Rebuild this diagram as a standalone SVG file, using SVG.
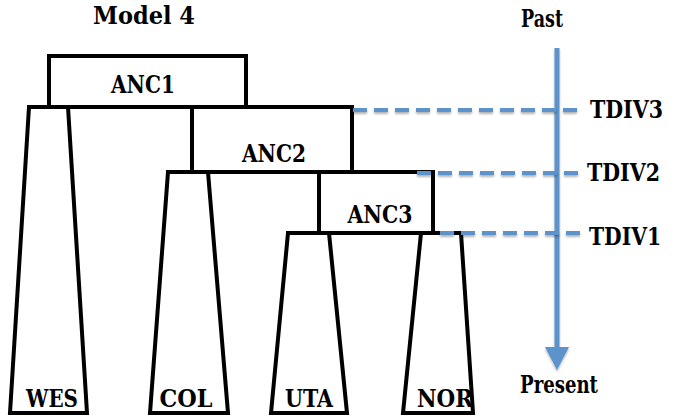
<svg xmlns="http://www.w3.org/2000/svg" width="675" height="417" viewBox="0 0 675 417">
  <style>
    text { font-family: 'DejaVu Serif', 'Liberation Serif', serif; font-weight: bold; fill: #000; font-size: 23.5px; }
    .shape { fill: #fff; stroke: #000; stroke-width: 4; stroke-linejoin: miter; }
    .split { stroke: #000; stroke-width: 4; fill: none; }
    .tdiv { stroke: #5b93cb; stroke-width: 4; stroke-dasharray: 14 7; fill: none; }
    .axis { stroke: #5b93cb; stroke-width: 5; fill: none; }
  </style>
  <defs>
    <filter id="soft" x="-10%" y="-50%" width="120%" height="200%">
      <feDropShadow dx="0" dy="2" stdDeviation="1.2" flood-color="#000" flood-opacity="0.3"/>
    </filter>
  </defs>
  <rect width="675" height="417" fill="#fff"/>

  <text x="93" y="23.5" style="font-size:25px" textLength="102" lengthAdjust="spacingAndGlyphs">Model 4</text>

  <!-- time axis -->
  <g id="time-axis" filter="url(#soft)">
    <line class="axis" x1="557" y1="48" x2="557" y2="350"/>
    <polygon points="545,347 569,347 557,370" fill="#5b93cb"/>
  </g>
  <text x="542" y="27" text-anchor="middle" textLength="42" lengthAdjust="spacingAndGlyphs">Past</text>
  <text x="559" y="393" text-anchor="middle" textLength="78" lengthAdjust="spacingAndGlyphs">Present</text>
  <text x="590" y="118" textLength="73" lengthAdjust="spacingAndGlyphs">TDIV3</text>
  <text x="587" y="181" textLength="73" lengthAdjust="spacingAndGlyphs">TDIV2</text>
  <text x="589" y="245" textLength="72" lengthAdjust="spacingAndGlyphs">TDIV1</text>

  <!-- populations -->
  <g id="WES">
    <polygon class="shape" points="29,107 68,107 87,413 10,413"/>
    <text x="52" y="407" text-anchor="middle" textLength="52" lengthAdjust="spacingAndGlyphs">WES</text>
  </g>
  <g id="COL">
    <polygon class="shape" points="168,172 208,172 228,413 150,413"/>
    <text x="186" y="407" text-anchor="middle" textLength="53" lengthAdjust="spacingAndGlyphs">COL</text>
  </g>
  <g id="UTA">
    <polygon class="shape" points="288,233 329,233 347,413 271,413"/>
    <text x="309" y="407" text-anchor="middle" textLength="48" lengthAdjust="spacingAndGlyphs">UTA</text>
  </g>
  <g id="NOR">
    <polygon class="shape" points="421,233 461,233 473,413 403,413"/>
    <text x="445" y="407" text-anchor="middle" textLength="56" lengthAdjust="spacingAndGlyphs">NOR</text>
  </g>

  <!-- ancestral populations -->
  <g id="ANC1">
    <rect class="shape" x="49" y="56" width="197" height="51"/>
    <text x="143" y="93" text-anchor="middle" textLength="64" lengthAdjust="spacingAndGlyphs">ANC1</text>
  </g>
  <g id="ANC2">
    <rect class="shape" x="192" y="107" width="160" height="65"/>
    <text x="274" y="162" text-anchor="middle" textLength="64" lengthAdjust="spacingAndGlyphs">ANC2</text>
  </g>
  <g id="ANC3">
    <rect class="shape" x="319" y="172" width="114" height="61"/>
    <text x="380" y="223" text-anchor="middle" textLength="65" lengthAdjust="spacingAndGlyphs">ANC3</text>
  </g>

  <!-- split lines -->
  <g id="connectors">
    <line class="split" x1="27" y1="107" x2="354" y2="107"/>
    <line class="split" x1="166" y1="172" x2="435" y2="172"/>
    <line class="split" x1="286" y1="233" x2="440" y2="233"/>
  </g>

  <!-- time divisions -->
  <g id="time-divisions" filter="url(#soft)">
    <line class="tdiv" x1="353" y1="110" x2="582" y2="110"/>
    <line class="tdiv" x1="417" y1="173" x2="582" y2="173"/>
    <line class="tdiv" x1="440" y1="233" x2="582" y2="233"/>
  </g>
</svg>
